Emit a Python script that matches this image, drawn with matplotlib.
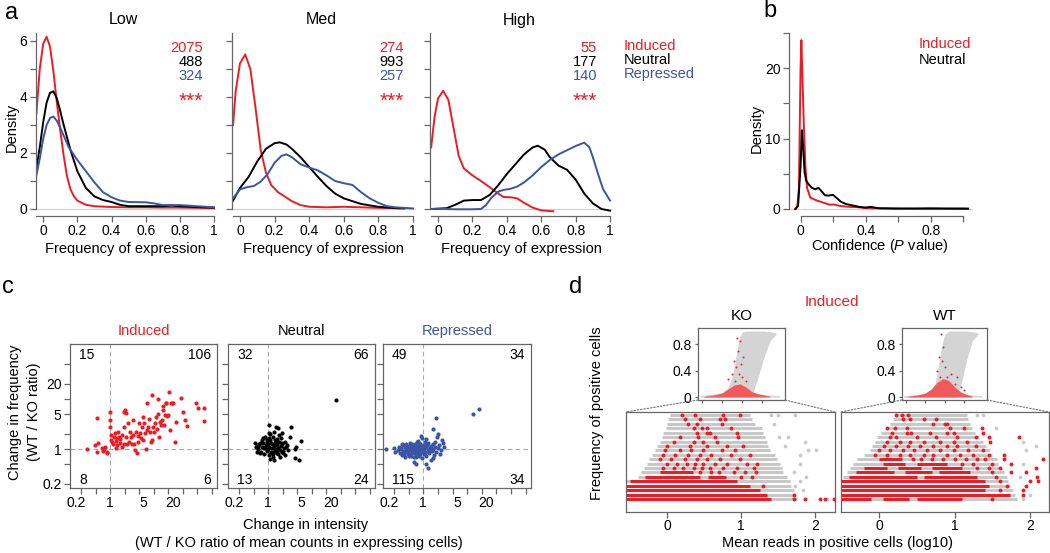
import numpy as np
import matplotlib
matplotlib.use("Agg")
import matplotlib.pyplot as plt
from matplotlib.patches import ConnectionPatch
from matplotlib.ticker import FixedLocator, FixedFormatter, NullLocator

plt.rcParams['font.family'] = ['Liberation Sans', 'DejaVu Sans']
plt.rcParams['font.size'] = 10
plt.rcParams['mathtext.fontset'] = 'custom'
plt.rcParams['mathtext.it'] = 'Liberation Sans:italic'
plt.rcParams['mathtext.rm'] = 'Liberation Sans'

RED = '#ed1c24'
BLUE = '#3a55a4'
AXC = '#666666'
LGREY = '#c8c8c8'

# ---------------- data ----------------
# panel a: density of expression frequency (Low / Med / High)
panel_names = ['Low', 'Med', 'High']
n_induced = [2075, 274, 55]
n_neutral = [488, 993, 177]
n_repressed = [324, 257, 140]

low_red_x = [-0.04, -0.02, 0, 0.02, 0.04, 0.06, 0.08, 0.10, 0.12, 0.14, 0.16, 0.18, 0.20, 0.25, 0.3, 0.4, 0.5, 0.6, 0.7, 0.8, 0.9, 1.0]
low_red_y = [3.4, 5.0, 5.9, 6.15, 5.8, 4.9, 3.8, 2.8, 1.9, 1.15, 0.7, 0.45, 0.3, 0.15, 0.1, 0.07, 0.06, 0.06, 0.05, 0.05, 0.04, 0.03]
low_blk_x = [-0.04, -0.02, 0, 0.02, 0.04, 0.06, 0.08, 0.1, 0.12, 0.14, 0.16, 0.2, 0.25, 0.3, 0.35, 0.4, 0.45, 0.5, 0.6, 0.7, 0.75, 0.8, 0.9, 1.0]
low_blk_y = [1.45, 2.2, 3.1, 3.8, 4.15, 4.2, 3.95, 3.5, 3.0, 2.55, 2.1, 1.35, 0.75, 0.45, 0.32, 0.25, 0.15, 0.1, 0.1, 0.1, 0.12, 0.1, 0.07, 0.05]
low_blu_x = [-0.04, -0.02, 0, 0.02, 0.04, 0.06, 0.08, 0.1, 0.15, 0.2, 0.25, 0.3, 0.35, 0.4, 0.45, 0.5, 0.6, 0.65, 0.7, 0.8, 0.9, 1.0]
low_blu_y = [1.2, 1.8, 2.5, 3.0, 3.25, 3.3, 3.15, 2.9, 2.2, 1.75, 1.35, 0.95, 0.6, 0.42, 0.3, 0.25, 0.24, 0.2, 0.14, 0.14, 0.1, 0.06]

med_red_x = [-0.04, -0.025, 0, 0.03, 0.06, 0.09, 0.12, 0.15, 0.18, 0.22, 0.26, 0.3, 0.35, 0.4, 0.5, 0.6, 0.7, 0.8, 0.92]
med_red_y = [3.0, 4.2, 5.2, 5.52, 5.0, 3.6, 2.1, 1.3, 0.86, 0.6, 0.44, 0.28, 0.14, 0.08, 0.06, 0.08, 0.06, 0.04, 0.03]
med_blk_x = [-0.04, 0, 0.05, 0.1, 0.15, 0.2, 0.23, 0.27, 0.3, 0.35, 0.4, 0.45, 0.5, 0.55, 0.6, 0.65, 0.7, 0.8, 0.9, 0.95]
med_blk_y = [0.3, 0.75, 1.15, 1.7, 2.15, 2.35, 2.38, 2.3, 2.15, 1.85, 1.5, 1.15, 0.82, 0.55, 0.38, 0.28, 0.18, 0.08, 0.03, 0.02]
med_blu_x = [-0.04, 0, 0.04, 0.08, 0.12, 0.16, 0.2, 0.24, 0.27, 0.3, 0.35, 0.4, 0.45, 0.5, 0.55, 0.6, 0.65, 0.7, 0.75, 0.8, 0.85, 0.9, 1.0]
med_blu_y = [0.38, 0.7, 0.78, 0.82, 0.98, 1.25, 1.65, 1.9, 1.95, 1.85, 1.6, 1.48, 1.38, 1.2, 1.0, 0.92, 0.86, 0.6, 0.38, 0.22, 0.1, 0.06, 0.02]

high_red_x = [-0.04, -0.02, 0, 0.03, 0.06, 0.09, 0.12, 0.15, 0.2, 0.25, 0.3, 0.35, 0.38, 0.42, 0.46, 0.5, 0.55, 0.6, 0.67]
high_red_y = [2.2, 3.3, 3.95, 4.22, 3.9, 2.9, 1.9, 1.45, 1.2, 1.0, 0.78, 0.55, 0.43, 0.42, 0.38, 0.22, 0.05, -0.05, -0.08]
high_blk_x = [-0.04, 0, 0.05, 0.1, 0.15, 0.2, 0.25, 0.3, 0.35, 0.4, 0.45, 0.5, 0.55, 0.58, 0.62, 0.65, 0.7, 0.75, 0.8, 0.85, 0.9, 0.95, 1.0]
high_blk_y = [0, 0.01, 0.03, 0.15, 0.3, 0.32, 0.32, 0.5, 0.85, 1.25, 1.6, 1.95, 2.2, 2.26, 2.12, 1.85, 1.55, 1.4, 1.05, 0.55, 0.2, 0.0, -0.06]
high_blu_x = [-0.04, 0, 0.1, 0.2, 0.25, 0.28, 0.31, 0.35, 0.38, 0.42, 0.46, 0.5, 0.55, 0.6, 0.65, 0.7, 0.75, 0.8, 0.85, 0.88, 0.9, 0.93, 0.96, 1.0]
high_blu_y = [0, 0.01, -0.01, -0.01, 0, 0.15, 0.4, 0.62, 0.68, 0.72, 0.8, 0.95, 1.2, 1.5, 1.75, 1.95, 2.1, 2.25, 2.37, 2.2, 1.85, 1.25, 0.7, 0.3]

# panel b: density of confidence (P value)
conf_red_x = [-0.035, -0.02, -0.01, 0, 0.005, 0.01, 0.02, 0.03, 0.04, 0.06, 0.08, 0.1, 0.14, 0.18, 0.2, 0.25, 0.3, 0.35, 0.4, 0.5, 0.6, 0.7, 0.8, 0.9, 1.0, 1.03]
conf_red_y = [0, 0.3, 3, 20, 24, 20, 12, 6, 3, 1.6, 1.4, 1.2, 0.9, 0.6, 0.65, 0.4, 0.3, 0.25, 0.12, 0.08, 0.07, 0.06, 0.1, 0.07, 0.08, 0.05]
conf_blk_x = [-0.03, -0.015, 0, 0.008, 0.015, 0.025, 0.035, 0.05, 0.07, 0.09, 0.11, 0.13, 0.15, 0.17, 0.2, 0.22, 0.25, 0.28, 0.32, 0.36, 0.4, 0.43, 0.48, 0.6, 0.8, 1.03]
conf_blk_y = [0, 0.5, 6, 11.2, 9, 5.2, 4, 3.5, 3.0, 2.8, 3.0, 2.5, 1.95, 1.9, 2.0, 1.6, 1.0, 0.7, 0.5, 0.3, 0.2, 0.3, 0.1, 0.05, 0.05, 0.03]

# panel c: log10(WT/KO intensity ratio), log10(WT/KO frequency ratio)
induced_pts = [
    (-0.47, 0.00), (-0.32, 0.09), (-0.28, -0.05), (-0.26, 0.63), (-0.24, 0.13), (-0.17, 0.02), (-0.14, -0.03),
    (-0.10, 0.05), (-0.07, -0.07), (-0.06, -0.05), (0.00, 0.75), (0.00, 0.59), (0.00, 0.45), (0.01, 0.29),
    (0.03, 0.19), (0.07, 0.11), (0.08, 0.25), (0.10, 0.32), (0.12, 0.17), (0.14, 0.22), (0.17, 0.35),
    (0.19, 0.25), (0.21, 0.13), (0.24, 0.05), (0.28, 0.75), (0.29, 0.45), (0.31, 0.79), (0.33, 0.25),
    (0.34, 0.73), (0.36, 0.11), (0.38, 0.53), (0.40, 0.15), (0.41, 0.35), (0.45, 0.11), (0.47, 0.59),
    (0.48, 0.29), (0.50, 0.11), (0.52, -0.01), (0.54, 0.35), (0.55, -0.08), (0.59, 0.15), (0.61, 0.52),
    (0.62, 0.33), (0.66, 0.45), (0.68, 0.64), (0.69, 0.19), (0.70, 0.53), (0.72, 0.32), (0.74, 0.00),
    (0.76, 0.92), (0.77, 0.39), (0.79, 0.45), (0.83, 0.35), (0.84, 0.14), (0.86, 0.19), (0.88, 1.09),
    (0.90, 0.45), (0.91, 0.35), (0.93, 0.53), (0.95, 0.65), (0.97, 0.40), (1.00, 1.00), (1.02, 0.25),
    (1.03, 0.55), (1.05, 0.49), (1.07, 0.59), (1.09, 0.79), (1.10, 0.87), (1.12, 0.49), (1.14, 0.69),
    (1.16, 0.92), (1.17, 0.92), (1.19, 0.67), (1.21, 0.69), (1.23, 1.15), (1.24, 0.39), (1.26, 0.92),
    (1.28, 0.93), (1.31, 0.92), (1.34, 0.15), (1.37, 0.55), (1.48, 1.02), (1.52, 0.74), (1.55, 0.59),
    (1.59, 0.47), (1.79, 0.92), (1.83, 0.82), (1.94, 0.82), (1.95, 0.57), (0.20, 0.20), (0.25, 0.28),
    (0.43, 0.25), (0.15, 0.08), (0.30, 0.10), (0.05, 0.15), (0.57, 0.27), (0.64, 0.22), (0.80, 0.60),
    (1.00, 0.70), (0.12, 0.02), (-0.12, 0.00)]
neutral_pts = [
    (-0.28, 0.12), (-0.21, 0.07), (-0.17, -0.08), (-0.10, 0.22), (-0.07, 0.02), (-0.03, 0.15), (0.02, 0.49),
    (0.03, 0.32), (0.07, -0.08), (0.10, -0.15), (0.14, 0.19), (0.17, 0.45), (0.20, 0.43), (0.28, 0.32),
    (0.31, -0.08), (0.38, 0.05), (0.45, 0.25), (0.48, 0.45), (0.55, 0.00), (0.59, 0.05), (0.69, 0.17),
    (0.55, -0.18), (0.64, -0.21), (0.12, -0.21), (1.41, 0.98),
    (-0.20, 0.00), (-0.18, 0.10), (-0.15, -0.05), (-0.12, 0.05), (-0.10, 0.12), (-0.08, -0.10), (-0.05, 0.08),
    (-0.03, -0.03), (0.00, 0.10), (0.00, 0.00), (0.02, -0.12), (0.03, 0.05), (0.05, 0.18), (0.06, -0.05),
    (0.08, 0.10), (0.09, 0.02), (0.10, 0.25), (0.11, -0.10), (0.12, 0.06), (0.14, 0.00), (0.15, 0.12),
    (0.16, -0.04), (0.18, 0.08), (0.19, 0.20), (0.20, -0.10), (0.21, 0.03), (0.23, 0.14), (0.24, -0.02),
    (0.26, 0.07), (0.27, 0.22), (0.29, -0.06), (0.30, 0.10), (0.33, 0.02), (0.35, 0.15), (0.36, -0.12),
    (0.40, 0.08), (0.42, -0.02), (-0.25, 0.05), (-0.22, -0.06), (-0.13, 0.18), (-0.06, 0.25), (0.04, 0.30),
    (0.13, 0.35), (0.22, 0.28), (0.25, -0.15), (0.05, -0.20), (-0.02, 0.18), (0.17, 0.15), (0.07, 0.13),
    (0.32, -0.04), (-0.09, 0.03), (0.01, 0.22), (0.28, 0.12), (0.10, -0.05), (0.19, -0.08), (-0.16, 0.13)]
repressed_pts = [
    (-0.52, -0.02), (-0.50, 0.05), (-0.48, -0.08), (-0.45, 0.02), (-0.43, -0.12), (-0.42, 0.08), (-0.40, -0.03),
    (-0.38, 0.04), (-0.37, -0.15), (-0.35, 0.10), (-0.34, -0.06), (-0.32, 0.00), (-0.31, -0.10), (-0.30, 0.06),
    (-0.28, -0.02), (-0.27, 0.12), (-0.26, -0.13), (-0.25, 0.03), (-0.24, -0.07), (-0.22, 0.08), (-0.21, -0.01),
    (-0.20, -0.16), (-0.19, 0.05), (-0.18, -0.05), (-0.17, 0.10), (-0.16, 0.00), (-0.15, -0.11), (-0.14, 0.04),
    (-0.13, -0.03), (-0.12, 0.14), (-0.11, -0.08), (-0.10, 0.02), (-0.09, -0.14), (-0.08, 0.07), (-0.07, -0.02),
    (-0.06, 0.11), (-0.05, -0.06), (-0.04, 0.01), (-0.03, -0.18), (-0.02, 0.05), (-0.01, -0.04), (0.00, 0.09),
    (0.01, -0.10), (0.02, 0.02), (0.03, 0.15), (0.04, -0.06), (0.05, 0.04), (0.06, -0.14), (0.08, 0.08),
    (0.09, -0.02), (0.10, 0.12), (0.12, -0.08), (0.13, 0.03), (0.15, 0.07), (0.17, -0.04), (0.19, 0.10),
    (0.21, 0.00), (0.23, -0.12), (0.25, 0.05), (0.27, -0.05), (0.30, 0.02), (0.33, 0.08), (0.36, -0.02),
    (-0.46, 0.00), (-0.41, -0.05), (-0.36, -0.01), (-0.33, 0.05), (-0.29, -0.09), (-0.26, 0.00), (-0.23, -0.04),
    (-0.20, 0.02), (-0.17, -0.08), (-0.15, 0.06), (-0.12, -0.01), (-0.09, 0.04), (-0.06, -0.09), (-0.03, 0.03),
    (0.00, -0.02), (0.03, -0.07), (0.06, 0.06), (-0.44, 0.10), (-0.39, -0.10), (-0.30, -0.14), (-0.24, 0.10),
    (-0.14, -0.15), (-0.08, 0.13), (0.07, 0.11), (0.11, -0.03), (-0.58, -0.06), (-0.60, 0.03),
    (-0.77, 0.00), (1.02, 0.70), (1.14, 0.81), (0.26, 0.63), (0.21, 0.41), (0.30, 0.30), (0.09, -0.38),
    (0.40, 0.12), (0.43, 0.05), (0.35, -0.10), (0.28, 0.25), (0.25, 0.15), (-0.03, 0.23), (-0.05, 0.27),
    (-0.10, 0.17), (0.06, 0.20), (0.15, -0.22), (-0.20, -0.25), (-0.15, -0.30), (0.05, -0.30), (0.38, 0.18),
    (0.20, -0.18)]
quad_induced = [15, 106, 8, 6]      # top-left, top-right, bottom-left, bottom-right
quad_neutral = [32, 66, 13, 24]
quad_repressed = [49, 34, 115, 34]

# panel d: rows = number of positive cells (bottom row = 1)
rows = np.arange(1, 21)
ko_gray_lo = [-0.55, -0.55, -0.55, -0.55, -0.55, -0.39, -0.35, -0.31, -0.27, -0.24, -0.2, -0.16, -0.13, -0.1, -0.07, -0.05, -0.02, 0.0, 0.02, 0.04]
ko_gray_hi = [1.75, 1.73, 1.71, 1.68, 1.66, 1.62, 1.57, 1.55, 1.53, 1.48, 1.46, 1.39, 1.37, 1.35, 1.32, 1.30, 1.28, 1.19, 1.15, 1.12]
wt_gray_lo = [-0.5, -0.5, -0.5, -0.5, -0.5, -0.47, -0.43, -0.39, -0.34, -0.29, -0.2, -0.12, -0.09, -0.05, -0.02, 0.03, 0.1, 0.15, 0.19, 0.23]
wt_gray_hi = [1.82, 1.8, 1.77, 1.74, 1.71, 1.69, 1.65, 1.6, 1.58, 1.56, 1.49, 1.47, 1.42, 1.38, 1.32, 1.27, 1.23, 1.2, 1.18, 1.16]
ko_gray_extra = [(1.41, 20), (1.5, 20), (1.73, 20), (1.45, 18), (1.52, 15), (1.63, 15), (1.86, 14), (1.6, 13),
                 (1.9, 12), (2.02, 12), (1.8, 11), (1.8, 9), (1.71, 7), (1.88, 6), (1.8, 5), (1.73, 4), (1.84, 3), (2.16, 1)]
wt_gray_extra = [(1.3, 20), (1.38, 20), (1.55, 17), (1.9, 14), (2.08, 13), (1.95, 12), (1.9, 9), (1.87, 6), (2.0, 2), (1.9, 1)]
ko_red_seg = [(1, -0.55, 1.4), (2, -0.55, 1.35), (3, -0.55, 1.26), (4, -0.55, 1.12), (5, -0.5, 0.95),
              (6, -0.3, 0.45), (6, 0.55, 0.8), (7, -0.1, 0.35)]
ko_red_pts = [(0.2, 20), (0.38, 20), (0.76, 20), (0.99, 20), (0.24, 19), (0.45, 19), (0.72, 19), (0.78, 19),
              (0.29, 18), (0.4, 18), (0.74, 18), (0.36, 17), (0.47, 17), (0.54, 17), (0.87, 17),
              (0.4, 16), (0.54, 16), (0.58, 16), (0.94, 16), (0.18, 15), (0.42, 15), (0.65, 15), (0.96, 15),
              (0.09, 14), (0.36, 14), (0.49, 14), (0.67, 14), (0.0, 13), (0.31, 13), (0.54, 13), (0.81, 13), (1.03, 13),
              (-0.03, 12), (0.18, 12), (0.33, 12), (0.49, 12), (0.74, 12), (0.92, 12),
              (-0.05, 11), (0.11, 11), (0.29, 11), (0.45, 11), (0.6, 11), (0.87, 11), (1.12, 11),
              (-0.09, 10), (0.06, 10), (0.24, 10), (0.4, 10), (0.54, 10), (0.72, 10), (0.99, 10),
              (0.0, 9), (0.13, 9), (0.27, 9), (0.38, 9), (0.49, 9), (0.65, 9), (0.81, 9), (1.08, 9), (1.21, 9),
              (-0.05, 8), (0.09, 8), (0.22, 8), (0.36, 8), (0.47, 8), (0.58, 8), (0.76, 8), (0.94, 8), (1.17, 8),
              (0.45, 7), (0.6, 7), (0.7, 7), (0.9, 7), (1.05, 7), (1.2, 7), (1.0, 6), (1.15, 6), (1.3, 4),
              (1.71, 2), (1.71, 1), (1.86, 1), (2.07, 1), (2.14, 1), (2.25, 1)]
wt_red_seg = [(1, -0.5, -0.1), (1, 0.05, 0.4), (1, 0.5, 1.1), (2, -0.5, 1.73), (3, -0.5, 1.4), (4, -0.5, 1.45),
              (5, -0.5, 1.4), (6, -0.4, 0.5), (6, 0.6, 1.3), (7, -0.3, 0.2), (7, 0.35, 0.7), (7, 0.8, 1.2),
              (8, -0.2, 0.1), (8, 0.25, 0.55), (8, 0.7, 1.1), (9, 0.05, 0.35), (9, 0.5, 0.9), (10, 0.0, 0.3)]
wt_red_pts = [(0.23, 20), (0.3, 20), (0.39, 20), (0.32, 19), (0.41, 19), (0.59, 19), (0.76, 19),
              (0.72, 18), (0.87, 18), (0.9, 18), (0.1, 17), (0.21, 17), (0.37, 17), (0.94, 17), (1.12, 17), (1.36, 17),
              (0.17, 16), (0.37, 16), (0.43, 16), (0.68, 16), (0.9, 16), (0.99, 16), (1.38, 16),
              (0.15, 15), (0.23, 15), (0.5, 15), (0.76, 15), (1.03, 15), (1.29, 15), (1.45, 15), (1.85, 15),
              (0.1, 14), (0.28, 14), (0.41, 14), (0.59, 14), (0.81, 14), (0.99, 14), (1.16, 14), (1.47, 14),
              (0.06, 13), (0.23, 13), (0.39, 13), (0.54, 13), (0.72, 13), (0.9, 13), (1.03, 13), (1.29, 13),
              (0.0, 12), (0.15, 12), (0.32, 12), (0.46, 12), (0.63, 12), (0.81, 12), (0.99, 12), (1.18, 12), (1.38, 12),
              (-0.05, 11), (0.1, 11), (0.28, 11), (0.41, 11), (0.59, 11), (0.72, 11), (0.9, 11), (1.07, 11),
              (1.25, 11), (1.45, 11), (1.65, 11), (0.45, 10), (0.55, 10), (0.7, 10), (0.85, 10), (1.0, 10),
              (1.15, 10), (1.3, 10), (1.4, 10), (1.65, 10), (2.17, 10), (1.1, 9), (1.25, 9), (1.5, 9), (1.75, 9),
              (1.3, 8), (1.45, 8), (1.6, 8), (2.08, 8), (1.5, 7), (1.75, 7), (1.95, 7), (1.55, 6), (2.09, 6),
              (1.6, 5), (2.0, 5), (2.1, 5), (1.7, 4), (1.95, 4), (1.6, 3), (1.9, 3), (1.91, 2), (1.5, 1)]

# panel d insets: outline of the grey and red point clouds
inset_x = [-1.1, -0.5, 0.0, 0.3, 0.5, 0.6, 0.7, 0.8, 0.9, 1.0, 1.2, 1.5, 1.8, 2.1, 2.4, 2.7]
ko_cloud_hi = [0.02, 0.04, 0.07, 0.14, 0.3, 0.45, 0.62, 0.8, 0.92, 0.98, 1.0, 1.0, 1.0, 1.0, 0.99, 0.97]
ko_cloud_lo = [0, 0, 0, 0, 0, 0, 0, 0, 0, 0, 0, 0.02, 0.3, 0.6, 0.85, 0.95]
wt_cloud_hi = [0.02, 0.03, 0.05, 0.1, 0.2, 0.35, 0.52, 0.7, 0.85, 0.95, 1.0, 1.0, 1.0, 1.0, 0.99, 0.97]
wt_cloud_lo = [0, 0, 0, 0, 0, 0, 0, 0, 0, 0, 0, 0.0, 0.15, 0.55, 0.85, 0.95]
tail_x = [-1.1, 0.0, 1.0, 2.0, 2.9]
tail_hi = [0.02, 0.05, 0.06, 0.04, 0.02]
red_cloud_x = [-0.9, -0.4, 0.0, 0.3, 0.6, 0.9, 1.2, 1.5, 1.8, 2.1, 2.4]
ko_red_hi = [0.01, 0.03, 0.06, 0.12, 0.18, 0.2, 0.15, 0.08, 0.05, 0.03, 0.01]
wt_red_hi = [0.01, 0.03, 0.06, 0.12, 0.22, 0.28, 0.25, 0.15, 0.08, 0.04, 0.01]
ko_inset_red = [(0.6, 0.55), (0.8, 0.7), (0.9, 0.85), (0.7, 0.45), (0.5, 0.35), (0.85, 0.35), (0.65, 0.25),
                (1.0, 0.3), (1.2, 0.25), (0.3, 0.28), (0.75, 0.9), (1.05, 0.6), (0.95, 0.5)]
wt_inset_red = [(0.8, 0.95), (0.9, 0.75), (0.7, 0.6), (0.85, 0.55), (1.0, 0.45), (1.3, 0.35), (0.6, 0.4),
                (1.5, 0.2), (1.8, 0.15), (2.0, 0.1), (0.75, 0.3), (1.1, 0.3), (1.6, 0.3)]

# ---------------- figure ----------------
W, H = 1050, 553
fig = plt.figure(figsize=(W / 100, H / 100), dpi=100)


def px_axes(l, t, r, b):
    return fig.add_axes([l / W, 1 - b / H, (r - l) / W, (b - t) / H])


def px_text(x, y, s, **kw):
    kw.setdefault('ha', 'center')
    kw.setdefault('va', 'center')
    fig.text(x / W, 1 - y / H, s, **kw)


def style(ax, box=False):
    for s in ax.spines.values():
        s.set_color(AXC)
        s.set_linewidth(0.9)
    if not box:
        ax.spines['top'].set_visible(False)
        ax.spines['right'].set_visible(False)
    ax.tick_params(color=AXC, length=4, width=0.9, labelsize=10, pad=2)
    ax.patch.set_alpha(0)


# ---- panel a ----
a_axes = [(35.5, 215.7), (232.2, 414.7), (430.3, 611.8)]
a_curves = [
    ((low_red_x, low_red_y), (low_blk_x, low_blk_y), (low_blu_x, low_blu_y)),
    ((med_red_x, med_red_y), (med_blk_x, med_blk_y), (med_blu_x, med_blu_y)),
    ((high_red_x, high_red_y), (high_blk_x, high_blk_y), (high_blu_x, high_blu_y)),
]
for i, ((l, r), curves) in enumerate(zip(a_axes, a_curves)):
    ax = px_axes(l, 32.6, r, 216)
    style(ax)
    ax.axhline(0, color='#d0d0d0', lw=0.8, zorder=0)
    for (cx, cy), col in zip(curves, [RED, 'black', BLUE]):
        ax.plot(cx, cy, color=col, lw=1.4)
    ax.set_xlim(-0.045, 1.01)
    ax.set_ylim(-0.25, 6.3)
    ax.spines['left'].set_bounds(0, 6.3)
    ax.spines['bottom'].set_bounds(-0.04, 1.0)
    ax.set_xticks([0, 0.2, 0.4, 0.6, 0.8, 1.0])
    ax.set_xticklabels(['0', '0.2', '0.4', '0.6', '0.8', '1'])
    ax.set_yticks(range(7))
    if i == 0:
        ax.set_yticklabels(['0', '', '2', '', '4', '', '6'])
    else:
        ax.set_yticklabels([])
    cx = (l + r) / 2
    px_text(cx - 2, 20, panel_names[i], fontsize=11.5)
    px_text(cx, 249, 'Frequency of expression', fontsize=10.5)
    rx = [203, 404, 597][i]
    px_text(rx, 48, str(n_induced[i]), ha='right', color=RED, fontsize=10.5)
    px_text(rx, 62, str(n_neutral[i]), ha='right', color='black', fontsize=10.5)
    px_text(rx, 76, str(n_repressed[i]), ha='right', color=BLUE, fontsize=10.5)
    px_text(rx, 101, '***', ha='right', color=RED, fontsize=15)

px_text(624, 46, 'Induced', ha='left', color=RED, fontsize=10.5)
px_text(624, 60, 'Neutral', ha='left', color='black', fontsize=10.5)
px_text(624, 74, 'Repressed', ha='left', color=BLUE, fontsize=10.5)
px_text(12, 127, 'Density', rotation=90, fontsize=10.5)
px_text(12, 13, 'a', fontsize=17)

# ---- panel b ----
ax = px_axes(789, 31, 973, 216)
style(ax)
ax.axhline(0, color='#d0d0d0', lw=0.8, zorder=0)
ax.plot(conf_red_x, conf_red_y, color=RED, lw=1.4)
ax.plot(conf_blk_x, conf_blk_y, color='black', lw=1.4)
ax.set_xlim(-0.071, 1.06)
ax.set_ylim(-1.0, 25.3)
ax.spines['left'].set_bounds(0, 25)
ax.spines['bottom'].set_bounds(0, 1.0)
ax.set_xticks([0, 0.2, 0.4, 0.6, 0.8, 1.0])
ax.set_xticklabels(['0', '', '0.4', '', '0.8', ''])
ax.set_yticks([0, 5, 10, 15, 20, 25])
ax.set_yticklabels(['0', '', '10', '', '20', ''])
px_text(919, 44, 'Induced', ha='left', color=RED, fontsize=10.5)
px_text(919, 60, 'Neutral', ha='left', color='black', fontsize=10.5)
px_text(757, 128, 'Density', rotation=90, fontsize=10.5)
px_text(880, 246, 'Confidence ($P$ value)', fontsize=10.5)
px_text(770, 11, 'b', fontsize=17)

# ---- panel c ----
c_axes = [(70, 217), (228, 375), (383, 531)]
c_sets = [(induced_pts, RED, 'Induced', quad_induced),
          (neutral_pts, 'black', 'Neutral', quad_neutral),
          (repressed_pts, BLUE, 'Repressed', quad_repressed)]
for i, ((l, r), (pts, col, name, quad)) in enumerate(zip(c_axes, c_sets)):
    ax = px_axes(l, 344, r, 488)
    style(ax, box=True)
    p = np.array(pts)
    ax.set_xscale('log')
    ax.set_yscale('log')
    ax.axvline(1, color='#aaaaaa', lw=0.8, ls=(0, (4, 3)), zorder=0)
    ax.axhline(1, color='#aaaaaa', lw=0.8, ls=(0, (4, 3)), zorder=0)
    ax.scatter(10 ** p[:, 0], 10 ** p[:, 1], s=9, color=col, linewidths=0, zorder=3)
    ax.set_xlim(0.148, 165)
    ax.set_ylim(0.166, 126)
    ax.xaxis.remove_overlapping_locs = False
    ax.xaxis.set_major_locator(FixedLocator(2.0 ** np.arange(-2, 8)))
    ax.xaxis.set_major_formatter(FixedFormatter([''] * 10))
    ax.xaxis.set_minor_locator(FixedLocator([0.2, 1, 5, 20]))
    ax.xaxis.set_minor_formatter(FixedFormatter(['0.2', '1', '5', '20']))
    ax.tick_params(axis='x', which='minor', length=0, labelsize=10, pad=6)
    ax.yaxis.set_major_locator(FixedLocator([0.2, 0.5, 1, 2, 5, 10, 20, 50]))
    ax.yaxis.set_minor_locator(NullLocator())
    if i == 0:
        ax.yaxis.set_major_formatter(FixedFormatter(['0.2', '', '1', '', '5', '', '20', '']))
    else:
        ax.yaxis.set_major_formatter(FixedFormatter([''] * 8))
    cx = (l + r) / 2
    px_text(cx, 331, name, color=col, fontsize=10.5)
    px_text(l + 9, 355, str(quad[0]), ha='left', fontsize=10)
    px_text(r - 6, 355, str(quad[1]), ha='right', fontsize=10)
    px_text(l + 9, 480, str(quad[2]), ha='left', fontsize=10)
    px_text(r - 6, 480, str(quad[3]), ha='right', fontsize=10)

px_text(15, 412, 'Change in frequency', rotation=90, fontsize=10.5)
px_text(34, 412, '(WT / KO ratio)', rotation=90, fontsize=10.5)
px_text(306, 525, 'Change in intensity', fontsize=10.5)
px_text(299, 543, '(WT / KO ratio of mean counts in expressing cells)', fontsize=10.5)
px_text(8, 287, 'c', fontsize=17)

# ---- panel d ----
d_lower = [((626, 835), (-0.554, 2.27), ko_gray_lo, ko_gray_hi, ko_gray_extra, ko_red_seg, ko_red_pts),
           ((840.7, 1049), (-0.507, 2.25), wt_gray_lo, wt_gray_hi, wt_gray_extra, wt_red_seg, wt_red_pts)]
d_inset = [((698, 785), ko_cloud_lo, ko_cloud_hi, ko_red_hi, ko_inset_red, 'KO'),
           ((901.7, 987), wt_cloud_lo, wt_cloud_hi, wt_red_hi, wt_inset_red, 'WT')]
for (lo_geom, xl, glo, ghi, gex, rseg, rpts), (in_geom, clo, chi, rhi, irp, name) in zip(d_lower, d_inset):
    axl = px_axes(lo_geom[0], 412, lo_geom[1], 512)
    style(axl, box=True)
    axl.hlines(rows, glo, ghi, color=LGREY, lw=2.2, zorder=1)
    g = np.array(gex)
    axl.scatter(g[:, 0], g[:, 1], s=7, color=LGREY, linewidths=0, zorder=1)
    for rw, a, b in rseg:
        axl.hlines(rw, a, b, color=RED, lw=2.2, zorder=2)
    q = np.array(rpts)
    axl.scatter(q[:, 0], q[:, 1], s=8, color=RED, linewidths=0, zorder=3)
    axl.set_xlim(*xl)
    axl.set_ylim(-1.94, 20.68)
    axl.set_xticks([0, 1, 2])
    axl.set_xticklabels(['0', '1', '2'])
    axl.tick_params(pad=1)
    axl.set_yticks([])

    axi = px_axes(in_geom[0], 328, in_geom[1], 400)
    style(axi, box=True)
    axi.fill_between(inset_x, clo, chi, color='#d4d4d4', lw=0, zorder=1)
    axi.fill_between(tail_x, 0, tail_hi, color='#d4d4d4', lw=0, zorder=1)
    axi.fill_between(red_cloud_x, 0, rhi, color='#f25a5a', lw=0, zorder=2)
    v = np.array(irp)
    axi.scatter(v[:, 0], v[:, 1], s=2, color=RED, linewidths=0, zorder=3)
    axi.set_xlim(-1.2, 3.15)
    axi.set_ylim(-0.045, 1.045)
    axi.set_xticks([-1, 0, 1, 2])
    axi.set_xticklabels([])
    axi.set_yticks([0, 0.4, 0.8])
    axi.set_yticklabels(['0', '0.4', '0.8'])
    axi.tick_params(length=2.5)
    px_text((in_geom[0] + in_geom[1]) / 2, 316, name, fontsize=11)

    for xa in (0, 1):
        con = ConnectionPatch(xyA=(xa, 0), coordsA='axes fraction', axesA=axi,
                              xyB=(xa, 1), coordsB='axes fraction', axesB=axl,
                              color='#777777', lw=0.8, ls=(0, (1.5, 1.5)))
        fig.add_artist(con)

px_text(832, 302, 'Induced', color=RED, fontsize=11)
px_text(597, 413, 'Frequency of positive cells', rotation=90, fontsize=10.5)
px_text(838, 543, 'Mean reads in positive cells (log10)', fontsize=10.5)
px_text(576, 287, 'd', fontsize=17)

fig.savefig('out.png', dpi=100)
